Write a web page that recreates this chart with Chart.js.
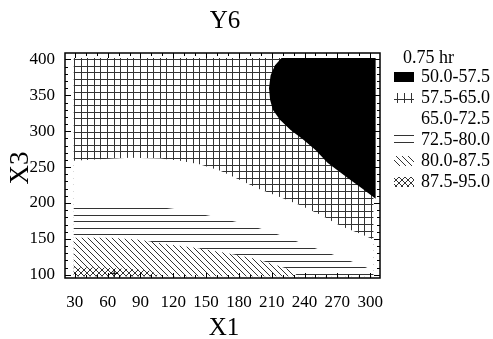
<!DOCTYPE html>
<html>
<head>
<meta charset="utf-8">
<title>Y6</title>
<script src="https://cdn.jsdelivr.net/npm/chart.js@4.4.1/dist/chart.umd.min.js"></script>
<style>
  html, body { margin: 0; padding: 0; background: #fff; }
</style>
</head>
<body>
<canvas id="chart" width="493" height="339"></canvas>
<script>
const X_TICKS = [30, 60, 90, 120, 150, 180, 210, 240, 270, 300]
const Y_TICKS = [100, 150, 200, 250, 300, 350, 400]
const X_RANGE = [21, 309]
const Y_RANGE = [95.5, 409]
const MINOR = 10

const LEVELS = ['50.0-57.5', '57.5-65.0', '65.0-72.5', '72.5-80.0', '80.0-87.5', '87.5-95.0']

// edges of the fitted surface (X1, X3)
const EDGE_X = [29, 303]
const EDGE_Y = [98, 402]

// 50.0-57.5 zone outline
const blackX = [219, 213, 209, 207.5, 208.5, 211, 217.5, 227, 239, 250, 261, 272.5, 282, 293, 305, 305]
const blackY = [402, 392, 378, 360, 344, 330, 316, 302, 288, 274, 256, 243, 232, 220, 206, 402]

// lower edge of 57.5-65.0
const c65X = [29, 53, 80, 108, 126, 144, 163, 181, 199, 218, 236, 254, 273, 291, 303]
const c65Y = [259, 261, 263, 262, 259, 254, 245, 232, 219, 208, 197, 184, 168, 157, 149]

// upper edge of 72.5-80.0
const c72X = [29, 62, 99, 126, 154, 181, 204, 222, 241, 259, 277, 291, 303]
const c72Y = [197.5, 197.5, 196, 190.5, 182, 172.5, 162.5, 153, 142, 132, 122, 114, 105.5]

// upper edge of 80.0-87.5
const c80X = [29, 62, 89.5, 112, 140, 167, 195, 213, 227, 234]
const c80Y = [151.5, 151.5, 148.7, 143, 137.6, 130.6, 122.3, 114, 107, 98]

// upper edge of 87.5-95.0
const c87X = [29, 53, 80, 99, 108]
const c87Y = [110, 110, 108, 105.5, 98]

const optX = [66]
const optY = [102]

const SERIF = "'Liberation Serif', 'DejaVu Serif', serif"

function pts(xs, ys) {
  return xs.map((x, i) => ({ x, y: ys[i] }))
}
// zone under a contour line, closed along the bottom edge
function below(xs, ys) {
  const p = pts(xs, ys)
  p.push({ x: EDGE_X[1], y: EDGE_Y[0] }, { x: EDGE_X[0], y: EDGE_Y[0] })
  return p
}

function hatch(size, draw, ox, oy) {
  const cv = document.createElement('canvas')
  cv.width = size
  cv.height = size
  const g = cv.getContext('2d')
  g.fillStyle = '#fff'
  g.fillRect(0, 0, size, size)
  g.strokeStyle = '#333'
  g.lineWidth = 1
  g.beginPath()
  draw(g, size)
  g.stroke()
  const p = g.createPattern(cv, 'repeat')
  p.setTransform(new DOMMatrix().translate(ox || 0, oy || 0))
  return p
}
const STEPS = [0, 6.6, 13.2, 19.8, 26.4]
const gridPat = hatch(33, (g, s) => {
  STEPS.forEach((k) => {
    const v = Math.round(k) + 0.5
    g.moveTo(v, 0); g.lineTo(v, s)
    g.moveTo(0, v); g.lineTo(s, v)
  })
}, 74, 59)
const hlinePat = hatch(33, (g, s) => {
  STEPS.forEach((k) => {
    const v = Math.round(k) + 0.5
    g.moveTo(0, v); g.lineTo(s, v)
  })
}, 0, 208)
const diagPat = hatch(6, (g) => {
  g.moveTo(-1, -1); g.lineTo(7, 7)
  g.moveTo(-1, 5); g.lineTo(1, 7)
  g.moveTo(5, -1); g.lineTo(7, 1)
})
const crossPat = hatch(6, (g) => {
  g.moveTo(-1, -1); g.lineTo(7, 7)
  g.moveTo(-1, 5); g.lineTo(1, 7)
  g.moveTo(5, -1); g.lineTo(7, 1)
  g.moveTo(-1, 7); g.lineTo(7, -1)
  g.moveTo(-1, 1); g.lineTo(1, -1)
  g.moveTo(5, 7); g.lineTo(7, 5)
})
const FILLS = ['#000', gridPat, '#fff', hlinePat, diagPat, crossPat]

function zone(label, data, fill) {
  return {
    label,
    data,
    fill: 'shape',
    backgroundColor: fill,
    borderWidth: 0,
    borderColor: 'transparent',
    pointRadius: 0,
    tension: 0,
  }
}

const frame = {
  id: 'frame',
  afterDatasetsDraw(c) {
    const { ctx, chartArea: a, scales: { x, y } } = c
    ctx.save()
    ctx.strokeStyle = '#000'
    ctx.lineWidth = 1
    ctx.beginPath()
    for (let v = X_TICKS[0]; v <= X_TICKS[X_TICKS.length - 1]; v += MINOR) {
      const px = Math.round(x.getPixelForValue(v)) + 0.5
      const len = X_TICKS.includes(v) ? 5 : 3
      ctx.moveTo(px, a.bottom); ctx.lineTo(px, a.bottom - len)
      ctx.moveTo(px, a.top); ctx.lineTo(px, a.top + len)
    }
    for (let v = Y_TICKS[0]; v <= Y_TICKS[Y_TICKS.length - 1]; v += MINOR) {
      const py = Math.round(y.getPixelForValue(v)) + 0.5
      const len = Y_TICKS.includes(v) ? 6 : 3
      ctx.moveTo(a.left, py); ctx.lineTo(a.left + len, py)
      ctx.moveTo(a.right, py); ctx.lineTo(a.right - len, py)
    }
    ctx.stroke()
    ctx.lineWidth = 1.5
    ctx.strokeRect(a.left, a.top, a.right - a.left, a.bottom - a.top)
    ctx.restore()
  },
  afterDraw(c) {
    const { ctx } = c
    ctx.save()
    ctx.fillStyle = '#000'
    ctx.textBaseline = 'middle'
    ctx.textAlign = 'center'
    ctx.font = `25px ${SERIF}`
    ctx.fillText('Y6', 225, 21)
    ctx.font = `25px ${SERIF}`
    ctx.fillText('X1', 224, 328)
    ctx.save()
    ctx.translate(21, 168)
    ctx.rotate(-Math.PI / 2)
    ctx.font = `27px ${SERIF}`
    ctx.fillText('X3', 0, 0)
    ctx.restore()

    ctx.textAlign = 'left'
    ctx.font = `18px ${SERIF}`
    ctx.fillText('0.75 hr', 403, 58)
    LEVELS.forEach((lab, i) => {
      const cy = 77 + i * 21
      if (i !== 2) {
        ctx.fillStyle = FILLS[i]
        ctx.fillRect(394, cy - 5, 20, 10)
      }
      ctx.fillStyle = '#000'
      ctx.fillText(lab, 421, cy)
    })
    ctx.restore()
  },
}

const tickFont = { family: SERIF, size: 17 }

new Chart(document.getElementById('chart'), {
  type: 'line',
  data: {
    datasets: [
      {
        label: 'opt',
        data: pts(optX, optY),
        showLine: false,
        pointStyle: 'cross',
        pointRadius: 4,
        pointBorderColor: '#000',
        pointBorderWidth: 1,
      },
      zone(LEVELS[0], pts(blackX, blackY), FILLS[0]),
      zone(LEVELS[5], below(c87X, c87Y), FILLS[5]),
      zone(LEVELS[4], below(c80X, c80Y), FILLS[4]),
      zone(LEVELS[3], below(c72X, c72Y), FILLS[3]),
      zone(LEVELS[2], below(c65X, c65Y), FILLS[2]),
      zone(LEVELS[1], [
        { x: EDGE_X[0], y: EDGE_Y[1] },
        { x: EDGE_X[1], y: EDGE_Y[1] },
        { x: EDGE_X[1], y: EDGE_Y[0] },
        { x: EDGE_X[0], y: EDGE_Y[0] },
      ], FILLS[1]),
    ],
  },
  options: {
    responsive: false,
    animation: false,
    layout: { padding: { top: 53, right: 113, bottom: 0, left: 0 } },
    plugins: { legend: { display: false }, tooltip: { enabled: false } },
    scales: {
      x: {
        type: 'linear',
        min: X_RANGE[0],
        max: X_RANGE[1],
        grid: { display: false, drawTicks: false },
        border: { display: false },
        ticks: { font: tickFont, color: '#000', padding: 14, maxRotation: 0, autoSkip: false },
        afterBuildTicks: (s) => { s.ticks = X_TICKS.map((v) => ({ value: v })) },
        afterFit: (s) => { s.height = 61 },
      },
      y: {
        type: 'linear',
        min: Y_RANGE[0],
        max: Y_RANGE[1],
        grid: { display: false, drawTicks: false },
        border: { display: false },
        ticks: { font: tickFont, color: '#000', padding: 10, autoSkip: false },
        afterBuildTicks: (s) => { s.ticks = Y_TICKS.map((v) => ({ value: v })) },
        afterFit: (s) => { s.width = 65 },
      },
    },
  },
  plugins: [frame],
})
</script>
</body>
</html>
